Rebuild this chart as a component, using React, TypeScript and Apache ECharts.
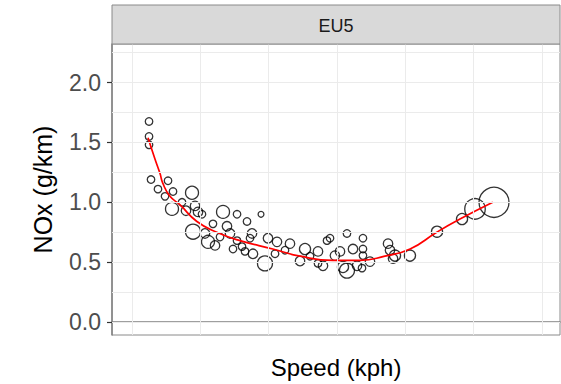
import React, { useEffect, useRef } from "react";
import * as echarts from "echarts";

// speed (kph), NOx (g/km), relative trip weight (bubble size)
const speed = [
  12.49, 12.49, 12.49, 12.78, 15.27, 13.8, 14.83, 16.0, 18.78, 15.85, 17.32, 19.22, 19.66, 20.24,
  18.93, 21.12, 20.68, 23.32, 25.37, 26.83, 23.9, 24.34, 22.88, 22.15, 25.37, 26.1, 26.54, 24.78,
  28.88, 27.56, 27.27, 29.46, 29.9, 31.22, 33.12, 35.32, 34.59, 37.22, 37.95, 38.98, 41.46, 40.44,
  40.88, 41.46, 42.34, 43.8, 42.93, 43.8, 38.54, 43.8, 44.83, 43.66, 47.47, 47.76, 48.49, 48.2,
  50.68, 54.64, 58.3, 60.2, 62.98, 32.39, 30.93, 36.05, 39.7, 37.22, 21.85, 17.9, 27.7,
];
const nox = [
  1.675, 1.55, 1.48, 1.19, 1.18, 1.11, 1.05, 1.09, 1.08, 0.945, 1.0, 0.97, 0.92, 0.9,
  0.755, 0.67, 0.74, 0.92, 0.9, 0.84, 0.8, 0.74, 0.71, 0.64, 0.68, 0.63, 0.59, 0.61,
  0.9, 0.74, 0.7, 0.49, 0.7, 0.67, 0.655, 0.61, 0.51, 0.59, 0.47, 0.7, 0.74, 0.59,
  0.46, 0.43, 0.61, 0.7, 0.47, 0.555, 0.68, 0.61, 0.505, 0.45, 0.655, 0.6, 0.555, 0.53,
  0.555, 0.755, 0.86, 0.945, 1.0, 0.6, 0.57, 0.55, 0.555, 0.49, 0.82, 0.93, 0.57,
];
const weight = [
  1, 1, 1, 1, 1, 1, 1, 1, 3, 3, 1, 1.6, 1.6, 1,
  4, 3, 1.6, 3, 1, 1, 1.6, 1.6, 1, 1.6, 1, 1, 1, 1,
  0.6, 1.6, 1, 4, 1.6, 1.6, 1.6, 2.2, 1.6, 1.6, 1.6, 1, 1, 1.6,
  2.2, 4, 1.6, 1, 1.6, 1, 1, 1, 1.6, 1, 1.6, 1.6, 2.2, 1.6,
  2.2, 2.2, 2.2, 7.5, 16, 1, 1, 1, 1.6, 1, 1, 1.6, 1.6,
];

// fitted smooth curve
const fitSpeed = [12.34, 13.37, 14.1, 14.5, 15.56, 17.0, 19.5, 22.4, 25.8, 30.6, 34.6, 39.4, 43.4, 47.0, 50.7, 54.6, 58.0, 62.8];
const fitNox = [1.54, 1.36, 1.24, 1.16, 1.05, 0.98, 0.84, 0.75, 0.68, 0.61, 0.55, 0.515, 0.515, 0.55, 0.61, 0.75, 0.86, 1.0];

const yTicks = [0, 0.5, 1.0, 1.5, 2.0];
const yGrid = [0, 0.25, 0.5, 0.75, 1.0, 1.25, 1.5, 1.75, 2.0, 2.25];
const xGrid = [10, 20, 30, 40, 50, 60, 70];

const stripLabel = "EU5";
const xTitle = "Speed (kph)";
const yTitle = "NOx (g/km)";

export default function App() {
  const ref = useRef<HTMLDivElement>(null);
  useEffect(() => {
    if (!ref.current) return;
    const chart = echarts.init(ref.current, undefined, { renderer: "svg" });
    const font = "Liberation Sans, Arial, sans-serif";
    const gridLeft = 112;
    const gridTop = 44;
    const gridRight = 1;
    const gridBottom = 47;
    const W = 561;
    const panelW = W - gridLeft - gridRight;

    const points = speed.map((s, i) => [s, nox[i], weight[i]]);
    const fit = fitSpeed.map((s, i) => [s, fitNox[i]]);

    const gridLineData: any[] = [
      ...xGrid.map((v) => ({ xAxis: v })),
      ...yGrid.map((v) => ({ yAxis: v })),
    ];

    chart.setOption({
      animation: false,
      textStyle: { fontFamily: font },
      grid: {
        left: gridLeft,
        right: gridRight,
        top: gridTop,
        bottom: gridBottom,
        show: true,
        borderColor: "#8a8a8a",
        borderWidth: 1,
        backgroundColor: "#ffffff",
      },
      graphic: [
        {
          type: "rect",
          shape: { x: gridLeft, y: 5, width: panelW, height: gridTop - 5 },
          style: { fill: "#d9d9d9", stroke: "#8a8a8a", lineWidth: 1 },
          z: 10,
        },
        {
          type: "text",
          x: gridLeft + panelW / 2,
          y: 5 + (gridTop - 5) / 2 + 1,
          style: {
            text: stripLabel,
            fill: "#1a1a1a",
            font: `18px ${font}`,
            textAlign: "center",
            textVerticalAlign: "middle",
          },
          z: 11,
        },
      ],
      xAxis: {
        type: "value",
        min: 7.07,
        max: 72.64,
        name: xTitle,
        nameLocation: "middle",
        nameGap: 20,
        nameTextStyle: { fontSize: 24, color: "#000", fontFamily: font },
        axisLine: { show: true, lineStyle: { color: "#808080", width: 1.5 } },
        axisTick: { show: false },
        axisLabel: { show: false },
        splitLine: { show: false },
      },
      yAxis: {
        type: "value",
        min: -0.108,
        max: 2.322,
        name: yTitle,
        nameLocation: "middle",
        nameGap: 57,
        nameRotate: 90,
        nameTextStyle: { fontSize: 25, color: "#000", fontFamily: font },
        axisLine: { show: true, lineStyle: { color: "#808080", width: 1.5 } },
        axisTick: {
          show: true,
          length: 5,
          lineStyle: { color: "#333", width: 1.2 },
          customValues: yTicks,
        },
        axisLabel: {
          show: true,
          customValues: yTicks,
          formatter: (v: number) => v.toFixed(1),
          fontSize: 23,
          color: "#4d4d4d",
          margin: 11,
          fontFamily: font,
        },
        splitLine: { show: false },
      },
      series: [
        {
          type: "line",
          data: [],
          silent: true,
          z: 1,
          markLine: {
            silent: true,
            symbol: ["none", "none"],
            label: { show: false },
            lineStyle: { color: "#ebebeb", width: 1, type: "solid" },
            emphasis: { disabled: true },
            data: gridLineData,
          },
        },
        {
          type: "scatter",
          data: points,
          z: 3,
          symbol: "circle",
          symbolSize: (d: number[]) => 7.5 * Math.sqrt(d[2]),
          itemStyle: { color: "rgba(0,0,0,0)", borderColor: "#000", borderWidth: 1.3 },
          silent: true,
        },
        {
          type: "line",
          data: fit,
          z: 4,
          smooth: true,
          showSymbol: false,
          symbol: "none",
          lineStyle: { color: "#ff0000", width: 1.7 },
          silent: true,
        },
      ],
    });
    return () => chart.dispose();
  }, []);
  return <div ref={ref} style={{ width: 561, height: 384, position: "absolute", left: 0, top: 0 }} />;
}
